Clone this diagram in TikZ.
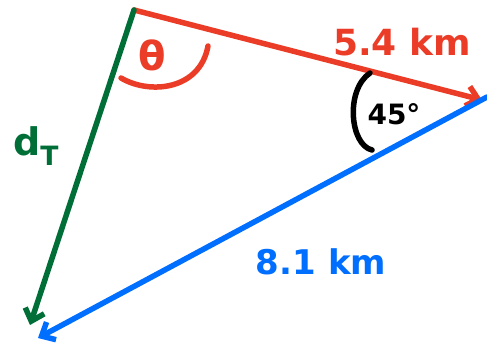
\documentclass[tikz,border=0pt]{standalone}
\usepackage{fontspec}
\setmainfont{DejaVu Sans}
\usepackage{xcolor}
\usetikzlibrary{arrows.meta, positioning}

\definecolor{penred}{RGB}{235,60,40}
\definecolor{pengreen}{RGB}{0,110,55}
\definecolor{penblue}{RGB}{0,110,255}

\tikzset{
	pen/.style={line width=5.5pt, line cap=round, line join=round},
	tip/.style={-{Straight Barb[length=11pt, width=20pt, line width=5.5pt]}},
	lbl/.style={inner sep=0pt, font=\bfseries\fontsize{#1}{#1}\selectfont},
}

\begin{document}
\begin{tikzpicture}[x=1pt, y=-1pt]
	\useasboundingbox (0,0) rectangle (487,344);
	% Corners of the triangle:
	\coordinate (A) at (134, 10);
	\coordinate (B) at (482, 100);
	\coordinate (Bs) at (487, 97);
	\coordinate (G) at (30, 325);
	\coordinate (C) at (38, 338);
	% Sides:
	\draw[pen, tip, penred] (A) -- (B);
	\draw[pen, tip, pengreen] (A) -- (G);
	\draw[pen, tip, penblue] (Bs) -- (C);
	% Angle marks:
	\coordinate (T1) at (121, 78);
	\coordinate (T2) at (208, 46);
	\draw[pen, penred] (T1) .. controls (150, 95) and (200, 90) .. (T2);
	\coordinate (P1) at (370, 73);
	\coordinate (P2) at (372, 150);
	\draw[pen, black] (P1) .. controls (345, 90) and (350, 145) .. (P2);
	% Labels:
	\node[lbl=40, penred] (theta) at (152, 55) {θ};
	\node[lbl=36, penred] (dAB) at (402, 42) {5.4 km};
	\node[lbl=28, black] (ang) at (394, 114) {45°};
	\node[lbl=38, pengreen] (dT) at (36, 146) {d\textsubscript{T}};
	\node[lbl=34, penblue] (dBC) at (321, 262) {8.1 km};
\end{tikzpicture}
\end{document}
